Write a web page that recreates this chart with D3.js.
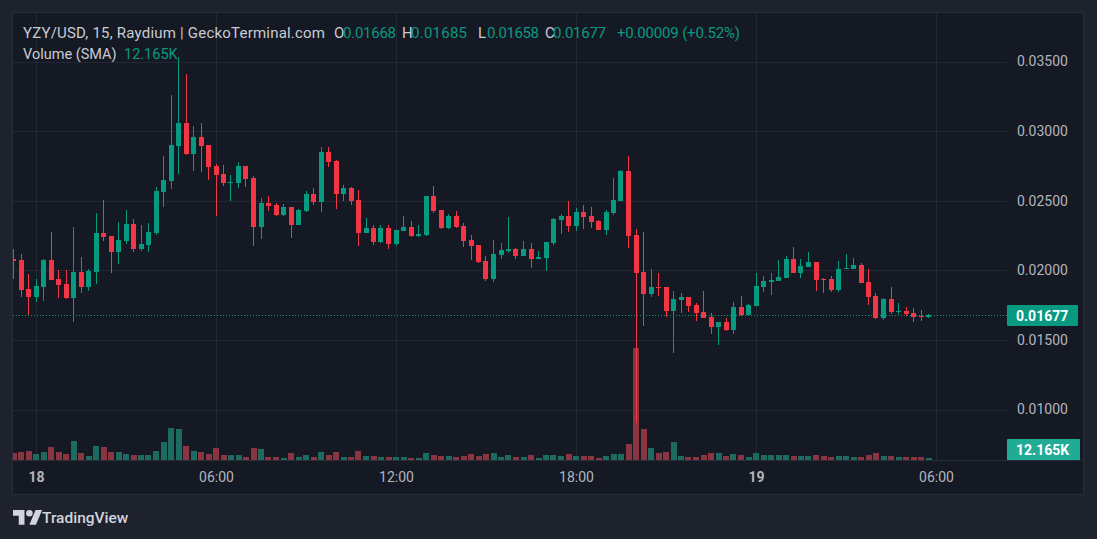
<!DOCTYPE html>
<html><head><meta charset="utf-8">
<script src="https://cdn.jsdelivr.net/npm/d3@7"></script>
<style>
html,body{margin:0;padding:0;background:#1e222d;}
svg{display:block;}
text{font-family:"Trebuchet MS",Roboto,"Noto Sans",sans-serif;}
</style></head>
<body>
<svg id="c" width="1097" height="539"></svg>
<script>
// ---------- data (15-minute candles, from 17 Aug 23:15 UTC) ----------
const startTime = "2025-08-17T23:15:00Z";
const opens  = [0.02084,0.02072,0.01863,0.01808,0.01880,0.02072,0.01935,0.01899,0.01801,0.01986,0.01880,0.01988,0.02266,0.02245,0.02132,0.02211,0.02331,0.02151,0.02180,0.02266,0.02561,0.02640,0.02894,0.03058,0.02835,0.02957,0.02899,0.02748,0.02691,0.02630,0.02626,0.02748,0.02662,0.02309,0.02482,0.02468,0.02396,0.02453,0.02324,0.02424,0.02547,0.02489,0.02849,0.02784,0.02547,0.02590,0.02504,0.02266,0.02302,0.02201,0.02302,0.02187,0.02281,0.02309,0.02245,0.02252,0.02532,0.02432,0.02302,0.02388,0.02317,0.02216,0.02180,0.02065,0.01935,0.02108,0.02137,0.02151,0.02101,0.02151,0.02079,0.02086,0.02194,0.02360,0.02388,0.02317,0.02417,0.02388,0.02353,0.02288,0.02410,0.02496,0.02712,0.02252,0.01986,0.01827,0.01880,0.01878,0.01705,0.01784,0.01806,0.01748,0.01698,0.01662,0.01592,0.01626,0.01571,0.01734,0.01678,0.01743,0.01880,0.01916,0.01921,0.01945,0.02079,0.01981,0.02024,0.02058,0.01935,0.01935,0.01856,0.02007,0.02007,0.02036,0.01914,0.01813,0.01657,0.01791,0.01700,0.01707,0.01693,0.01671,0.01668];
const highs  = [0.02156,0.02115,0.01971,0.01935,0.02080,0.02273,0.02000,0.02000,0.02312,0.02094,0.02007,0.02410,0.02504,0.02245,0.02345,0.02432,0.02367,0.02324,0.02338,0.02597,0.02820,0.03259,0.03532,0.03410,0.03036,0.03058,0.02899,0.02763,0.02755,0.02683,0.02777,0.02748,0.02676,0.02518,0.02532,0.02482,0.02475,0.02453,0.02439,0.02568,0.02590,0.02885,0.02885,0.02791,0.02612,0.02597,0.02576,0.02374,0.02324,0.02324,0.02324,0.02288,0.02388,0.02353,0.02324,0.02532,0.02604,0.02432,0.02403,0.02424,0.02338,0.02252,0.02180,0.02101,0.02216,0.02194,0.02381,0.02158,0.02209,0.02194,0.02137,0.02201,0.02374,0.02403,0.02496,0.02446,0.02468,0.02453,0.02360,0.02432,0.02662,0.02719,0.02820,0.02295,0.02273,0.02007,0.01978,0.01878,0.01849,0.01835,0.01806,0.01763,0.01849,0.01691,0.01626,0.01655,0.01770,0.01813,0.01755,0.01978,0.01957,0.01978,0.02072,0.02101,0.02165,0.02079,0.02129,0.02058,0.01942,0.01957,0.02065,0.02115,0.02086,0.02050,0.02007,0.01835,0.01799,0.01878,0.01763,0.01734,0.01727,0.01712,0.01685];
const lows   = [0.01940,0.01808,0.01676,0.01772,0.01779,0.01928,0.01801,0.01791,0.01628,0.01837,0.01851,0.01901,0.02211,0.01981,0.02045,0.02192,0.02135,0.02137,0.02132,0.02252,0.02453,0.02583,0.02691,0.02827,0.02712,0.02705,0.02647,0.02388,0.02604,0.02496,0.02592,0.02599,0.02173,0.02223,0.02424,0.02388,0.02388,0.02230,0.02324,0.02417,0.02468,0.02417,0.02741,0.02439,0.02496,0.02468,0.02173,0.02266,0.02180,0.02194,0.02151,0.02173,0.02281,0.02237,0.02237,0.02245,0.02410,0.02295,0.02295,0.02302,0.02165,0.02072,0.02050,0.01921,0.01914,0.02079,0.02122,0.02079,0.02101,0.02014,0.02079,0.01993,0.02180,0.02259,0.02273,0.02281,0.02295,0.02302,0.02288,0.02252,0.02396,0.02496,0.02158,0.00900,0.01597,0.01806,0.01813,0.01662,0.01403,0.01693,0.01700,0.01635,0.01657,0.01542,0.01463,0.01563,0.01542,0.01671,0.01678,0.01743,0.01844,0.01822,0.01921,0.01945,0.01981,0.01945,0.02024,0.01849,0.01837,0.01842,0.01842,0.02007,0.02007,0.01906,0.01748,0.01650,0.01642,0.01686,0.01686,0.01671,0.01628,0.01635,0.01658];
const closes = [0.02067,0.01856,0.01808,0.01885,0.02072,0.01933,0.01894,0.01801,0.01986,0.01880,0.01993,0.02266,0.02240,0.02132,0.02216,0.02331,0.02151,0.02187,0.02273,0.02568,0.02647,0.02899,0.03058,0.02835,0.02957,0.02892,0.02741,0.02683,0.02628,0.02636,0.02748,0.02655,0.02309,0.02482,0.02460,0.02396,0.02453,0.02324,0.02432,0.02547,0.02489,0.02849,0.02777,0.02547,0.02590,0.02496,0.02266,0.02302,0.02201,0.02302,0.02187,0.02288,0.02309,0.02245,0.02259,0.02532,0.02424,0.02302,0.02388,0.02309,0.02209,0.02173,0.02058,0.01935,0.02115,0.02144,0.02151,0.02101,0.02151,0.02079,0.02094,0.02201,0.02367,0.02388,0.02317,0.02417,0.02381,0.02345,0.02288,0.02417,0.02504,0.02712,0.02245,0.01978,0.01827,0.01878,0.01873,0.01705,0.01791,0.01806,0.01743,0.01693,0.01657,0.01592,0.01626,0.01571,0.01734,0.01678,0.01748,0.01885,0.01921,0.01928,0.01950,0.02079,0.01981,0.02029,0.02058,0.01928,0.01930,0.01856,0.02007,0.02014,0.02036,0.01906,0.01806,0.01657,0.01791,0.01700,0.01707,0.01686,0.01664,0.01664,0.01677];
// volume in thousands of USD
const volumes = [42,48,54,36,48,78,48,36,114,42,24,84,78,48,48,36,30,30,30,54,108,192,186,84,54,48,36,72,30,30,30,18,72,66,18,18,12,42,18,30,18,48,30,48,18,18,54,24,24,18,18,18,18,12,12,42,30,24,24,18,24,36,24,36,42,18,30,18,18,30,12,30,30,24,36,24,24,24,12,24,36,36,96,672,186,72,42,48,108,24,18,18,30,42,42,24,36,30,18,42,30,30,30,30,24,24,24,30,24,18,24,24,18,18,30,42,24,24,18,18,18,18,12.165];

const priceTicks = [0.035,0.030,0.025,0.020,0.015,0.010];
const timeTicks = ["2025-08-18T00:00:00Z","2025-08-18T06:00:00Z","2025-08-18T12:00:00Z","2025-08-18T18:00:00Z","2025-08-19T00:00:00Z","2025-08-19T06:00:00Z"];
const timeTickLabels = ["18","06:00","12:00","18:00","19","06:00"];
const lastPrice = 0.01677;
const lastVolumeLabel = "12.165K";
const legendTitle = "YZY/USD, 15, Raydium | GeckoTerminal.com";
const legendOHLC = [["O","0.01668"],["H","0.01685"],["L","0.01658"],["C","0.01677"]];
const legendChange = "+0.00009 (+0.52%)";

// ---------- styles ----------
const UP = "#089981", DOWN = "#f23645";
const UPV = "#1c6a60", DOWNV = "#8a3541";
const GRID = "#232734", BORDER = "#2a2e39", TXT = "#b2b5be", LEG = "#c8cbd3";

const svg = d3.select("#c");
const W = 1097, H = 539;
const panel = {x0:12, y0:12, x1:1084, y1:495};
const plot = {x0:13, x1:1007, y0:13, y1:460};

svg.append("rect").attr("width",W).attr("height",H).attr("fill","#1e222d");
svg.append("rect").attr("x",panel.x0+0.5).attr("y",panel.y0+0.5)
  .attr("width",panel.x1-panel.x0-1).attr("height",panel.y1-panel.y0-1)
  .attr("fill","#151924").attr("stroke",BORDER);

const t0 = d3.isoParse(startTime);
const candles = opens.map((o,i)=>({t:d3.utcMinute.offset(t0,15*i),o,h:highs[i],l:lows[i],c:closes[i],v:volumes[i]}));

const x = d3.scaleUtc()
  .domain([d3.isoParse("2025-08-17T23:12:00Z"), d3.isoParse("2025-08-19T08:22:00Z")])
  .range([12,1007]);
const y = d3.scaleLinear().domain([0.010,0.035]).range([409.5,61.5]);
const yv = d3.scaleLinear().domain([0,672]).range([460,348]);

svg.append("defs").append("clipPath").attr("id","pc")
  .append("rect").attr("x",plot.x0).attr("y",plot.y0).attr("width",plot.x1-plot.x0).attr("height",plot.y1-plot.y0);

// grid
const g = svg.append("g").attr("clip-path","url(#pc)");
g.selectAll(".hg").data(priceTicks).join("line")
  .attr("x1",plot.x0).attr("x2",plot.x1)
  .attr("y1",d=>Math.round(y(d))+0.5).attr("y2",d=>Math.round(y(d))+0.5)
  .attr("stroke",GRID);
g.selectAll(".vg").data(timeTicks.map(d3.isoParse)).join("line")
  .attr("x1",d=>Math.round(x(d))+0.5).attr("x2",d=>Math.round(x(d))+0.5)
  .attr("y1",plot.y0).attr("y2",plot.y1)
  .attr("stroke",GRID);

// volume
const bw = 6;
g.selectAll(".vol").data(candles).join("rect")
  .attr("x",d=>Math.round(x(d.t)-bw/2))
  .attr("width",bw)
  .attr("y",d=>yv(d.v))
  .attr("height",d=>460-yv(d.v))
  .attr("fill",d=>d.c>=d.o?UPV:DOWNV);

// current price dotted line
g.append("line").attr("x1",plot.x0).attr("x2",plot.x1)
  .attr("y1",Math.round(y(lastPrice))+0.5).attr("y2",Math.round(y(lastPrice))+0.5)
  .attr("stroke",UP).attr("stroke-dasharray","1,2");

// candles
const cg = g.append("g").attr("shape-rendering","crispEdges");
cg.selectAll(".wick").data(candles).join("rect")
  .attr("x",d=>Math.round(x(d.t)-0.5))
  .attr("width",1)
  .attr("y",d=>y(d.h))
  .attr("height",d=>Math.max(1,y(d.l)-y(d.h)))
  .attr("fill",d=>d.c>=d.o?UP:DOWN);
cg.selectAll(".body").data(candles).join("rect")
  .attr("x",d=>Math.round(x(d.t)-0.5)-2)
  .attr("width",5)
  .attr("y",d=>y(Math.max(d.o,d.c)))
  .attr("height",d=>Math.max(1,Math.abs(y(d.o)-y(d.c))))
  .attr("fill",d=>d.c>=d.o?UP:DOWN);

// price axis
const pa = svg.append("g").attr("transform",`translate(${plot.x1},0)`)
  .call(d3.axisRight(y).tickValues(priceTicks).tickFormat(d3.format(".5f")).tickSize(0).tickPadding(10));
pa.select(".domain").remove();
pa.selectAll("text").attr("fill",TXT).attr("font-size",14).style("font-family","'Trebuchet MS',Roboto,sans-serif");

// time axis separator
svg.append("line").attr("x1",panel.x0+1).attr("x2",panel.x1-1).attr("y1",460.5).attr("y2",460.5).attr("stroke",BORDER);

const ta = svg.append("g").attr("transform","translate(0,460)")
  .call(d3.axisBottom(x).tickValues(timeTicks.map(d3.isoParse)).tickFormat((d,i)=>timeTickLabels[i]).tickSize(0).tickPadding(12));
ta.select(".domain").remove();
ta.selectAll("text").attr("fill",TXT).attr("font-size",14)
  .attr("font-weight",(d,i)=>/^\d\d$/.test(timeTickLabels[i])?"bold":"normal")
  .style("font-family","'Trebuchet MS',Roboto,sans-serif");

// last price label
const ly = Math.round(y(lastPrice));
svg.append("rect").attr("x",1007).attr("y",ly-10).attr("width",71).attr("height",21).attr("rx",1).attr("fill",UP);
svg.append("text").attr("x",1016).attr("y",ly+1).attr("dy","0.35em").attr("fill","#ffffff")
  .attr("font-size",14).attr("font-weight","bold").text(d3.format(".5f")(lastPrice));
// last volume label
svg.append("rect").attr("x",1007).attr("y",439).attr("width",73).attr("height",21).attr("rx",1).attr("fill","#22ab94");
svg.append("text").attr("x",1016).attr("y",450).attr("dy","0.35em").attr("fill","#ffffff")
  .attr("font-size",14).attr("font-weight","bold").text(lastVolumeLabel);

// legend (item x positions match the TradingView legend layout)
const L1 = 38, FS = 15;
const leg = svg.append("g").attr("font-size",FS);
leg.append("text").attr("x",23).attr("y",L1).attr("fill",LEG)
  .attr("textLength",302).attr("lengthAdjust","spacing").text(legendTitle);
const keyX = [334,402,478,545], valX = [343,411,487,553];
legendOHLC.forEach(([k,v],i)=>{
  leg.append("text").attr("x",keyX[i]).attr("y",L1).attr("fill",LEG).text(k);
  leg.append("text").attr("x",valX[i]).attr("y",L1).attr("fill",UP).attr("textLength",i===1?56:(i===2?52:53)).text(v);
});
leg.append("text").attr("x",617).attr("y",L1).attr("fill",UP).attr("textLength",123).text(legendChange);

leg.append("text").attr("x",23).attr("y",59).attr("fill",LEG).attr("font-size",14.5).text("Volume (SMA)");
leg.append("text").attr("x",124).attr("y",59).attr("fill",UP).attr("font-size",14.5).text(lastVolumeLabel);

// TradingView logo
const logo = svg.append("g").attr("transform","translate(13,510) scale(0.82)").attr("fill","#d1d4dc");
logo.append("path").attr("d","M14 18H7V7H0V0h14v18zM28 18h-8l7.5-18h8L28 18z");
logo.append("circle").attr("cx",20).attr("cy",4).attr("r",4);
svg.append("text").attr("x",42).attr("y",523).attr("font-size",15.5).attr("font-weight",500)
  .attr("fill","#d1d4dc").style("font-family","Roboto,sans-serif").text("TradingView");
</script>
</body></html>
